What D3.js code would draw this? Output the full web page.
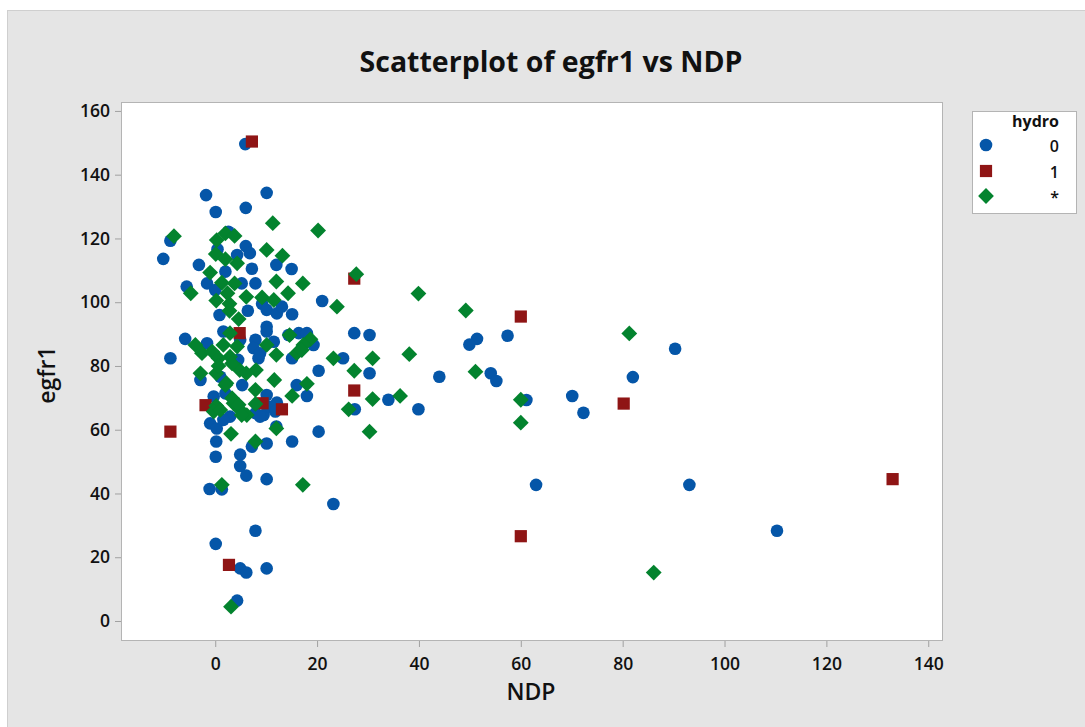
<!DOCTYPE html>
<html><head><meta charset="utf-8">
<script src="https://cdn.jsdelivr.net/npm/d3@7"></script>
<style>html,body{margin:0;padding:0;background:#fff;} svg{display:block;}</style>
</head><body>
<svg id="chart" width="1085" height="727"></svg>
<script>
// ---------- DATA ----------
const xTicks = [0, 20, 40, 60, 80, 100, 120, 140];
const yTicks = [0, 20, 40, 60, 80, 100, 120, 140, 160];
const legendTitle = "hydro";
const groupLabels = ["0", "1", "*"];

// hydro = 0 : [NDP, egfr1]
const hydro0 = [
 [-10.2,113.6],[-8.8,119.3],[-8.8,82.4],[-5.6,104.9],[-5.9,88.5],[-3.2,111.7],[-1.8,133.6],[0.1,128.3],
 [5.9,149.6],[6.0,129.6],[10.1,134.3],[0.45,116.6],[6.0,117.6],[6.8,115.4],[4.3,114.8],[7.2,110.5],
 [12.0,111.7],[15.0,110.4],[2.0,109.6],[-1.6,105.9],[7.9,105.9],[0.0,103.8],[0.85,96.0],[6.4,97.3],
 [9.2,99.5],[10.1,97.6],[12.1,96.5],[13.1,98.6],[15.1,96.2],[21.0,100.4],[10.1,92.3],[10.1,90.8],
 [1.6,90.8],[-1.6,87.1],[4.9,88.2],[7.9,88.2],[7.5,85.6],[8.5,82.4],[11.5,87.6],[14.4,89.7],
 [16.4,90.3],[18.0,90.3],[19.3,86.6],[15.1,82.4],[27.3,90.3],[30.3,89.7],[25.1,82.4],[20.3,78.5],
 [30.3,77.7],[27.4,66.4],[20.3,59.4],[16.0,74.0],[18.0,70.6],[-2.9,75.6],[1.0,76.6],[10.1,70.9],
 [12.1,68.5],[9.5,64.6],[7.9,65.2],[-1.0,62.0],[0.3,60.4],[2.9,64.1],[1.6,63.1],[0.2,56.3],
 [7.2,54.7],[10.1,55.7],[15.1,56.3],[12.0,61.0],[4.9,52.2],[0.1,51.5],[4.9,48.6],[6.1,45.6],
 [10.1,44.5],[-1.1,41.4],[1.3,41.3],[23.2,36.7],[7.9,28.3],[0.1,24.2],[4.9,16.5],[6.1,15.2],
 [10.1,16.5],[4.3,6.4],[51.4,88.5],[49.9,86.7],[57.4,89.5],[44.0,76.6],[54.1,77.7],[55.2,75.3],
 [34.0,69.4],[39.9,66.4],[61.1,69.3],[70.1,70.6],[72.3,65.3],[90.3,85.4],[82.0,76.5],[63.0,42.7],
 [93.1,42.7],[110.3,28.3],[2.6,122.1],[5.2,105.9],[-0.3,70.4],[2.0,71.4],[10.8,67.2],[11.8,65.7],
 [8.8,64.1],[8.8,84.0],[4.5,81.9],[5.3,74.0]
];
// hydro = 1
const hydro1 = [
 [7.2,150.4],[27.3,107.4],[4.8,90.3],[-1.9,67.7],[-8.8,59.4],[9.3,68.3],[13.1,66.4],[27.3,72.3],
 [2.7,17.6],[60.0,95.5],[80.2,68.2],[133.0,44.5],[60.0,26.6]
];
// hydro = * (missing)
const hydroMissing = [
 [-8.1,120.7],[2.0,121.6],[0.3,119.5],[3.8,120.8],[11.3,124.8],[20.2,122.5],[0.1,115.1],[2.0,113.5],
 [4.3,112.2],[10.1,116.4],[13.2,114.6],[-1.0,109.3],[1.3,106.1],[3.8,105.9],[12.0,106.5],[17.2,105.9],
 [27.7,108.8],[-4.8,102.8],[0.2,100.5],[2.4,102.8],[2.8,99.5],[2.8,97.3],[6.1,101.7],[9.2,101.5],
 [11.5,100.7],[14.3,102.8],[23.9,98.6],[4.6,94.7],[2.9,90.3],[-3.9,86.6],[-2.6,84.0],[-0.6,84.5],
 [1.6,86.6],[4.3,86.1],[2.9,82.9],[0.65,82.4],[10.1,86.6],[12.0,83.5],[14.6,89.7],[18.7,88.4],
 [17.3,86.6],[16.0,84.0],[23.2,82.4],[27.3,78.5],[30.9,82.4],[30.9,69.6],[26.2,66.4],[30.3,59.4],
 [8.0,78.7],[11.6,75.6],[18.0,74.4],[15.1,70.6],[-2.9,77.7],[0.2,77.7],[2.2,74.6],[4.8,78.7],
 [6.1,77.7],[7.9,72.5],[7.9,68.1],[0.2,67.5],[-0.3,65.7],[3.6,68.3],[4.9,66.2],[6.2,64.6],
 [3.1,58.7],[7.9,56.3],[12.0,60.4],[1.3,42.7],[17.2,42.7],[3.1,4.5],[39.9,102.7],[49.2,97.4],
 [81.3,90.2],[38.1,83.7],[51.1,78.2],[36.3,70.6],[60.0,69.4],[60.0,62.2],[86.1,15.2],[3.3,80.8],
 [0.65,80.0],[2.0,74.0],[3.3,69.9],[4.6,67.8],[1.0,66.2],[5.2,64.6],[17.0,85.0]
];

// ---------- LAYOUT ----------
const svg = d3.select("#chart");
const W = 1085, H = 727;
const plot = {left: 121, right: 942, top: 102, bottom: 640};
const colors = {blue: "#0556a8", red: "#8f1515", green: "#03832e"};
const font = "'Open Sans', 'Noto Sans', sans-serif";

// background
svg.append("rect").attr("x", 0).attr("y", 0).attr("width", W).attr("height", H).attr("fill", "#ffffff");
svg.append("rect").attr("x", 7.5).attr("y", 10.5).attr("width", W).attr("height", H)
  .attr("fill", "#e5e5e5").attr("stroke", "#cfcfcf").attr("stroke-width", 1);

const x = d3.scaleLinear().domain([-18.5, 142.7]).range([plot.left, plot.right]);
const y = d3.scaleLinear().domain([-5.96, 162.8]).range([plot.bottom, plot.top]);

// plot area
svg.append("rect").attr("x", plot.left + 0.5).attr("y", plot.top + 0.5)
  .attr("width", plot.right - plot.left).attr("height", plot.bottom - plot.top)
  .attr("fill", "#ffffff").attr("stroke", "#b4b4b4").attr("stroke-width", 1);

// axes
const xAxis = d3.axisBottom(x).tickValues(xTicks).tickSize(6).tickSizeOuter(0).tickPadding(7);
const yAxis = d3.axisLeft(y).tickValues(yTicks).tickSize(6).tickSizeOuter(0).tickPadding(5);

const gx = svg.append("g").attr("transform", `translate(0,${plot.bottom + 1})`).call(xAxis);
const gy = svg.append("g").attr("transform", `translate(${plot.left},0)`).call(yAxis);
[gx, gy].forEach(g => {
  g.select(".domain").remove();
  g.selectAll(".tick line").attr("stroke", "#a0a0a0");
  g.selectAll(".tick text").attr("fill", "#111").style("font-family", font)
    .style("font-size", "17.5px").style("font-weight", 600);
});
gx.selectAll(".tick text").attr("dy", "0.9em");

// titles
svg.append("text").attr("x", 551).attr("y", 72).attr("text-anchor", "middle")
  .style("font-family", font).style("font-size", "28.5px").style("font-weight", 700)
  .attr("fill", "#111").text("Scatterplot of egfr1 vs NDP");
svg.append("text").attr("x", 531).attr("y", 700).attr("text-anchor", "middle")
  .style("font-family", font).style("font-size", "23px").style("font-weight", 600)
  .attr("fill", "#111").text("NDP");
svg.append("text").attr("transform", "translate(55,375) rotate(-90)").attr("text-anchor", "middle")
  .style("font-family", font).style("font-size", "23px").style("font-weight", 600)
  .attr("fill", "#111").text("egfr1");

// marks
const pts = svg.append("g");
pts.selectAll("circle.h0").data(hydro0).join("circle").attr("class", "h0")
  .attr("cx", d => x(d[0])).attr("cy", d => y(d[1])).attr("r", 6.3).attr("fill", colors.blue);
const sq = 12.2;
pts.selectAll("rect.h1").data(hydro1).join("rect").attr("class", "h1")
  .attr("x", d => x(d[0]) - sq / 2).attr("y", d => y(d[1]) - sq / 2)
  .attr("width", sq).attr("height", sq).attr("fill", colors.red);
const dia = d3.symbol().type(d3.symbolSquare).size(125);
pts.selectAll("path.hm").data(hydroMissing).join("path").attr("class", "hm")
  .attr("d", dia).attr("transform", d => `translate(${x(d[0])},${y(d[1])}) rotate(45)`)
  .attr("fill", colors.green);

// legend
const lg = svg.append("g");
lg.append("rect").attr("x", 972.5).attr("y", 111.5).attr("width", 104).attr("height", 102)
  .attr("fill", "#ffffff").attr("stroke", "#b4b4b4");
lg.append("text").attr("x", 1059).attr("y", 127).attr("text-anchor", "end")
  .style("font-family", font).style("font-size", "16px").style("font-weight", 700)
  .attr("fill", "#111").text(legendTitle);
const ly = [145, 171, 196];
lg.append("circle").attr("cx", 986).attr("cy", ly[0]).attr("r", 6.3).attr("fill", colors.blue);
lg.append("rect").attr("x", 986 - sq / 2).attr("y", ly[1] - sq / 2).attr("width", sq).attr("height", sq).attr("fill", colors.red);
lg.append("path").attr("d", dia).attr("transform", `translate(986,${ly[2]}) rotate(45)`).attr("fill", colors.green);
groupLabels.forEach((t, i) => {
  lg.append("text").attr("x", 1059).attr("y", ly[i] + 6.5).attr("text-anchor", "end")
    .style("font-family", font).style("font-size", "16px").style("font-weight", 600)
    .attr("fill", "#111").text(t);
});
</script>
</body></html>
